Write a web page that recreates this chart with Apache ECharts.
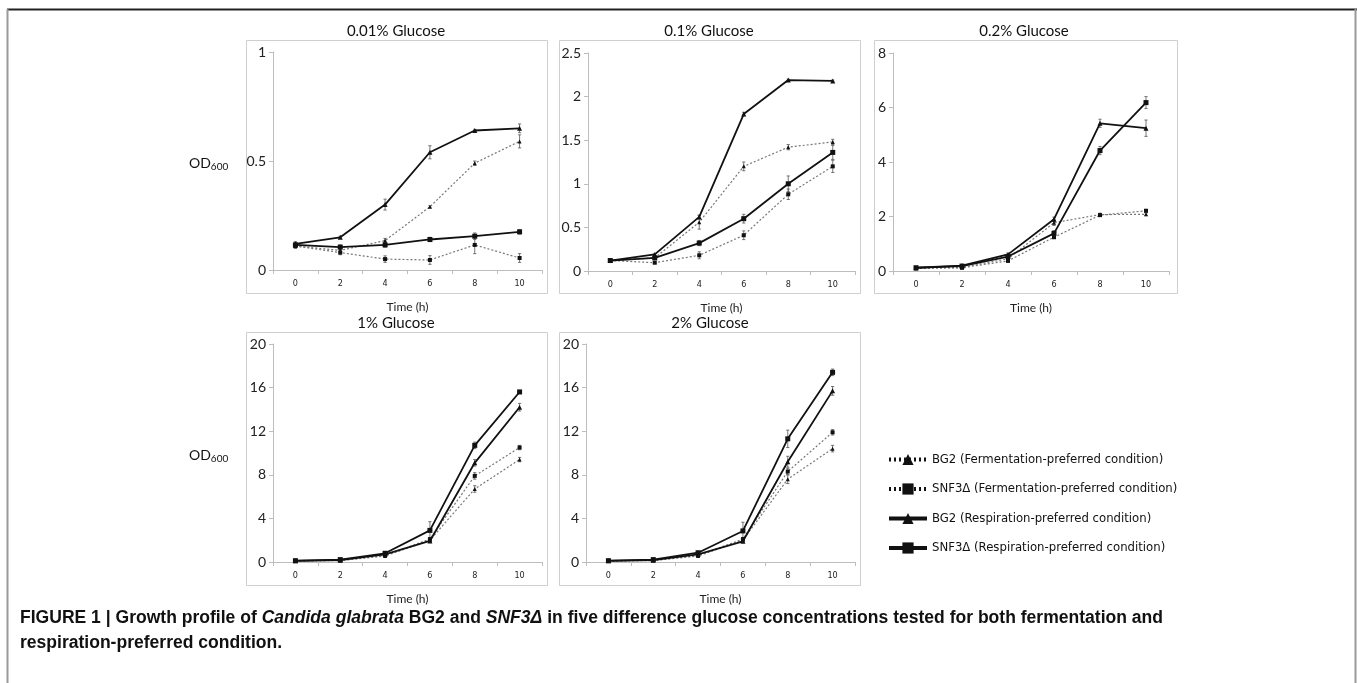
<!DOCTYPE html>
<html><head><meta charset="utf-8">
<script src="https://cdn.jsdelivr.net/npm/echarts@6/dist/echarts.min.js"></script>
<style>html,body{margin:0;padding:0;background:#fff}#c{width:1357px;height:683px}</style>
</head><body><div id="c"></div><script>
// ---- data ----
const hours = ['0', '2', '4', '6', '8', '10'];
const panelTitles = ['0.01% Glucose', '0.1% Glucose', '0.2% Glucose', '1% Glucose', '2% Glucose'];
const seriesNames = ['BG2 (Fermentation-preferred condition)', 'SNF3Δ (Fermentation-preferred condition)', 'BG2 (Respiration-preferred condition)', 'SNF3Δ (Respiration-preferred condition)'];
const yMaxes = [1, 2.5, 8, 20, 20];
const yIntervals = [0.5, 0.5, 2, 4, 4];
const yAxisTitle = 'OD';
const yAxisSub = '600';
const xAxisTitle = 'Time (h)';
const captionBold1 = 'FIGURE 1 | Growth profile of ';
const captionItalic1 = 'Candida glabrata';
const captionBold2 = ' BG2 and ';
const captionItalic2 = 'SNF3Δ';
const captionBold3 = ' in five difference glucose concentrations tested for both fermentation and';
const captionLine2 = 'respiration-preferred condition.';

// 0.01% glucose
const g001_BG2_ferm = [0.11, 0.09, 0.135, 0.29, 0.49, 0.59];
const g001_SNF3_ferm = [0.11, 0.08, 0.05, 0.046, 0.115, 0.055];
const g001_BG2_resp = [0.12, 0.15, 0.30, 0.54, 0.64, 0.65];
const g001_SNF3_resp = [0.115, 0.105, 0.115, 0.14, 0.155, 0.175];
const g001_BG2_ferm_err = [0.01, 0.01, 0.01, 0.005, 0.01, 0.03];
const g001_SNF3_ferm_err = [0.01, 0.01, 0.015, 0.02, 0.04, 0.02];
const g001_BG2_resp_err = [0.01, 0.005, 0.025, 0.03, 0.005, 0.02];
const g001_SNF3_resp_err = [0.01, 0.01, 0.01, 0.01, 0.015, 0.01];
// 0.1% glucose
const g01_BG2_ferm = [0.12, 0.15, 0.56, 1.20, 1.42, 1.48];
const g01_SNF3_ferm = [0.12, 0.095, 0.18, 0.41, 0.88, 1.20];
const g01_BG2_resp = [0.12, 0.19, 0.62, 1.80, 2.19, 2.18];
const g01_SNF3_resp = [0.12, 0.15, 0.32, 0.60, 1.00, 1.36];
const g01_BG2_ferm_err = [0.01, 0.01, 0.08, 0.05, 0.03, 0.03];
const g01_SNF3_ferm_err = [0.01, 0.01, 0.04, 0.05, 0.06, 0.07];
const g01_BG2_resp_err = [0.01, 0.01, 0.02, 0.02, 0.01, 0.01];
const g01_SNF3_resp_err = [0.01, 0.01, 0.03, 0.05, 0.09, 0.08];
// 0.2% glucose
const g02_BG2_ferm = [0.10, 0.13, 0.45, 1.77, 2.07, 2.08];
const g02_SNF3_ferm = [0.10, 0.12, 0.37, 1.24, 2.05, 2.21];
const g02_BG2_resp = [0.12, 0.20, 0.61, 1.90, 5.42, 5.24];
const g02_SNF3_resp = [0.12, 0.18, 0.53, 1.38, 4.42, 6.18];
const g02_BG2_ferm_err = [0.01, 0.01, 0.03, 0.10, 0.05, 0.05];
const g02_SNF3_ferm_err = [0.01, 0.01, 0.03, 0.05, 0.05, 0.05];
const g02_BG2_resp_err = [0.02, 0.02, 0.05, 0.08, 0.15, 0.30];
const g02_SNF3_resp_err = [0.02, 0.02, 0.05, 0.10, 0.15, 0.22];
// 1% glucose
const g1_BG2_ferm = [0.10, 0.13, 0.55, 2.00, 6.7, 9.4];
const g1_SNF3_ferm = [0.10, 0.15, 0.60, 2.10, 7.9, 10.5];
const g1_BG2_resp = [0.11, 0.18, 0.70, 1.93, 9.1, 14.2];
const g1_SNF3_resp = [0.12, 0.22, 0.80, 2.90, 10.7, 15.6];
const g1_BG2_ferm_err = [0.02, 0.02, 0.05, 0.10, 0.30, 0.20];
const g1_SNF3_ferm_err = [0.02, 0.02, 0.05, 0.15, 0.30, 0.20];
const g1_BG2_resp_err = [0.02, 0.03, 0.05, 0.10, 0.30, 0.35];
const g1_SNF3_resp_err = [0.02, 0.03, 0.05, 0.80, 0.30, 0.15];
// 2% glucose
const g2_BG2_ferm = [0.10, 0.13, 0.55, 2.00, 7.6, 10.4];
const g2_SNF3_ferm = [0.10, 0.15, 0.60, 2.10, 8.3, 11.9];
const g2_BG2_resp = [0.11, 0.18, 0.70, 1.90, 9.2, 15.7];
const g2_SNF3_resp = [0.12, 0.22, 0.85, 2.85, 11.3, 17.4];
const g2_BG2_ferm_err = [0.02, 0.02, 0.05, 0.10, 0.40, 0.30];
const g2_SNF3_ferm_err = [0.02, 0.02, 0.05, 0.15, 0.30, 0.25];
const g2_BG2_resp_err = [0.02, 0.03, 0.05, 0.10, 0.50, 0.40];
const g2_SNF3_resp_err = [0.02, 0.03, 0.10, 0.80, 0.80, 0.30];

const panelData = [
  [g001_BG2_ferm, g001_SNF3_ferm, g001_BG2_resp, g001_SNF3_resp],
  [g01_BG2_ferm, g01_SNF3_ferm, g01_BG2_resp, g01_SNF3_resp],
  [g02_BG2_ferm, g02_SNF3_ferm, g02_BG2_resp, g02_SNF3_resp],
  [g1_BG2_ferm, g1_SNF3_ferm, g1_BG2_resp, g1_SNF3_resp],
  [g2_BG2_ferm, g2_SNF3_ferm, g2_BG2_resp, g2_SNF3_resp]
];
const panelErr = [
  [g001_BG2_ferm_err, g001_SNF3_ferm_err, g001_BG2_resp_err, g001_SNF3_resp_err],
  [g01_BG2_ferm_err, g01_SNF3_ferm_err, g01_BG2_resp_err, g01_SNF3_resp_err],
  [g02_BG2_ferm_err, g02_SNF3_ferm_err, g02_BG2_resp_err, g02_SNF3_resp_err],
  [g1_BG2_ferm_err, g1_SNF3_ferm_err, g1_BG2_resp_err, g1_SNF3_resp_err],
  [g2_BG2_ferm_err, g2_SNF3_ferm_err, g2_BG2_resp_err, g2_SNF3_resp_err]
];

// ---- layout / style ----
const FONT = 'Lato, "Open Sans", sans-serif';
const NARROW = '"DejaVu Sans Condensed", "Liberation Sans", sans-serif';
const CAPFONT = '"Liberation Sans", Arial, sans-serif';
const grids = [
  { left: 273, top: 52, width: 269, height: 218 },
  { left: 588, top: 53, width: 267, height: 218 },
  { left: 893, top: 53, width: 276, height: 218 },
  { left: 273, top: 344, width: 269, height: 218 },
  { left: 586, top: 344, width: 269, height: 218 }
];
const boxes = [
  [246, 40, 301, 253], [559, 40, 301, 253], [874, 40, 303, 253],
  [246, 332, 301, 253], [559, 332, 301, 253]
];
const titleCenters = [[396, 31], [709, 31], [1024, 31], [396, 323], [710, 323]];
const symbols = ['triangle', 'rect', 'triangle', 'rect'];
const isResp = [false, false, true, true];

// caption horizontal compression (reference uses a condensed bold face)
const capSize = 18;
const mctx = document.createElement('canvas').getContext('2d');
function tw(txt, italic) {
  mctx.font = (italic ? 'italic ' : '') + 'bold ' + capSize + 'px ' + CAPFONT;
  return mctx.measureText(txt).width;
}
const capWidth = tw(captionBold1) + tw(captionItalic1, true) + tw(captionBold2) + tw(captionItalic2, true) + tw(captionBold3);
const capScale = 1143 / capWidth;

const xAxes = grids.map((g, i) => ({
  type: 'category', gridIndex: i, data: hours, boundaryGap: true,
  name: xAxisTitle, nameLocation: 'middle', nameGap: 31,
  nameTextStyle: { fontFamily: FONT, fontSize: 12, color: '#222' },
  axisLine: { lineStyle: { color: '#bdbdbd', width: 1 } },
  axisTick: { show: true, length: 4, lineStyle: { color: '#bdbdbd' } },
  axisLabel: { fontFamily: NARROW, fontSize: 9, color: '#222', margin: 9 },
  splitLine: { show: false }
}));
const yAxes = grids.map((g, i) => ({
  type: 'value', gridIndex: i, min: 0, max: yMaxes[i], interval: yIntervals[i],
  axisLine: { show: true, lineStyle: { color: '#bdbdbd', width: 1 } },
  axisTick: { show: true, length: 4, lineStyle: { color: '#bdbdbd' } },
  axisLabel: { fontFamily: FONT, fontSize: 14, color: '#222', margin: 7 },
  splitLine: { show: false }
}));

function errSeries(gi, vals, errs) {
  return {
    type: 'custom', xAxisIndex: gi, yAxisIndex: gi, silent: true, z: 1,
    data: vals.map((v, i) => [i, v - errs[i], v + errs[i]]),
    encode: { x: 0, y: [1, 2] },
    renderItem(params, api) {
      const x = api.value(0);
      const lo = api.coord([x, api.value(1)]);
      const hi = api.coord([x, api.value(2)]);
      const w = 1.6;
      const st = { stroke: '#555', lineWidth: 0.8 };
      return {
        type: 'group', children: [
          { type: 'line', shape: { x1: lo[0], y1: lo[1], x2: hi[0], y2: hi[1] }, style: st },
          { type: 'line', shape: { x1: lo[0] - w, y1: lo[1], x2: lo[0] + w, y2: lo[1] }, style: st },
          { type: 'line', shape: { x1: hi[0] - w, y1: hi[1], x2: hi[0] + w, y2: hi[1] }, style: st }
        ]
      };
    }
  };
}

const series = [];
panelData.forEach((arrs, gi) => {
  arrs.forEach((vals, si) => {
    series.push(errSeries(gi, vals, panelErr[gi][si]));
  });
  arrs.forEach((vals, si) => {
    series.push({
      type: 'line', name: seriesNames[si], xAxisIndex: gi, yAxisIndex: gi,
      data: vals, symbol: symbols[si], symbolSize: isResp[si] ? 5 : 4,
      showSymbol: true, animation: false, z: isResp[si] ? 4 : 3,
      itemStyle: { color: '#111', borderWidth: 0 },
      lineStyle: isResp[si] ? { color: '#111', width: 1.8, type: 'solid' } : { color: '#777', width: 1.2, type: [2, 2] },
      emphasis: { disabled: true }
    });
  });
});

const graphics = [];
// outer frame
graphics.push({ type: 'line', shape: { x1: 7, y1: 9.5, x2: 1357, y2: 9.5 }, style: { stroke: '#222', lineWidth: 2 } });
graphics.push({ type: 'line', shape: { x1: 7.5, y1: 9, x2: 7.5, y2: 683 }, style: { stroke: '#999', lineWidth: 2 } });
graphics.push({ type: 'line', shape: { x1: 1355.5, y1: 9, x2: 1355.5, y2: 683 }, style: { stroke: '#999', lineWidth: 2 } });
boxes.forEach(b => graphics.push({
  type: 'rect', shape: { x: b[0] + 0.5, y: b[1] + 0.5, width: b[2], height: b[3] },
  style: { fill: null, stroke: '#cfcfcf', lineWidth: 1 }, z: -1
}));
panelTitles.forEach((t, i) => graphics.push({
  type: 'text', x: titleCenters[i][0], y: titleCenters[i][1],
  style: { text: t, fontFamily: FONT, fontSize: 15, fill: '#111', align: 'center', verticalAlign: 'middle' }
}));
[[189, 163], [189, 455]].forEach(p => graphics.push({
  type: 'text', x: p[0], y: p[1],
  style: {
    text: '{a|' + yAxisTitle + '}{s|' + yAxisSub + '}', verticalAlign: 'middle', fill: '#111',
    rich: { a: { fontFamily: FONT, fontSize: 14, fill: '#111' }, s: { fontFamily: FONT, fontSize: 10, fill: '#111', padding: [7, 0, 0, 0] } }
  }
}));
graphics.push({
  type: 'text', x: 20, y: 618, scaleX: capScale,
  style: {
    text: '{b|' + captionBold1 + '}{i|' + captionItalic1 + '}{b|' + captionBold2 + '}{i|' + captionItalic2 + '}{b|' + captionBold3 + '}',
    verticalAlign: 'middle',
    rich: {
      b: { fontFamily: CAPFONT, fontSize: capSize, fontWeight: 'bold', fill: '#111' },
      i: { fontFamily: CAPFONT, fontSize: capSize, fontWeight: 'bold', fontStyle: 'italic', fill: '#111' }
    }
  }
});
graphics.push({
  type: 'text', x: 20, y: 643, scaleX: capScale,
  style: { text: captionLine2, verticalAlign: 'middle', fontFamily: CAPFONT, fontSize: capSize, fontWeight: 'bold', fill: '#111' }
});

const chart = echarts.init(document.getElementById('c'), null, { renderer: 'canvas' });
chart.setOption({
  animation: false,
  backgroundColor: '#fff',
  grid: grids,
  xAxis: xAxes,
  yAxis: yAxes,
  legend: {
    orient: 'vertical', left: 882, top: 448, itemWidth: 38, itemHeight: 14, itemGap: 16.5,
    selectedMode: false,
    textStyle: { fontFamily: NARROW, fontSize: 13, color: '#111' },
    data: [
      { name: seriesNames[0], lineStyle: { width: 4, type: [2, 3], color: '#111' }, itemStyle: { color: '#111' } },
      { name: seriesNames[1], lineStyle: { width: 4, type: [2, 3], color: '#111' }, itemStyle: { color: '#111' } },
      { name: seriesNames[2], lineStyle: { width: 4, type: 'solid', color: '#111' }, itemStyle: { color: '#111' } },
      { name: seriesNames[3], lineStyle: { width: 4, type: 'solid', color: '#111' }, itemStyle: { color: '#111' } }
    ]
  },
  graphic: graphics,
  series: series
});
</script></body></html>
